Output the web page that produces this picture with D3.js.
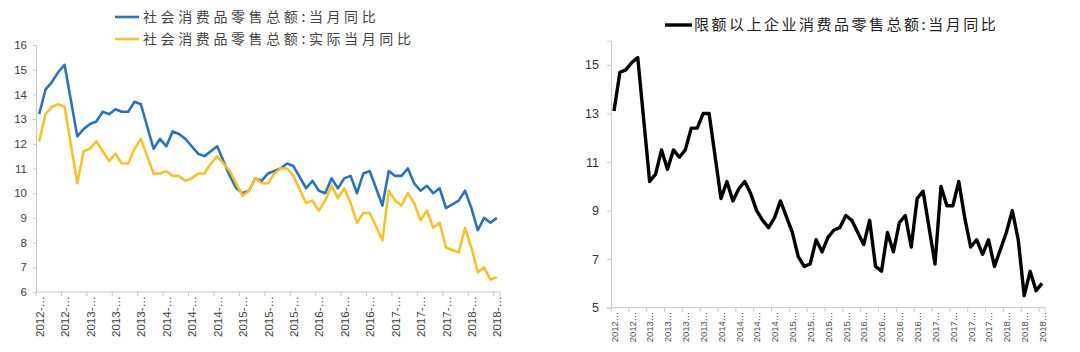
<!DOCTYPE html>
<html><head><meta charset="utf-8">
<script src="https://cdn.jsdelivr.net/npm/d3@7"></script>
<style>
html,body{margin:0;padding:0;background:#fff;}
svg{display:block;}
</style></head>
<body>
<svg id="c" width="1080" height="352"></svg>
<script>
// ---- DATA ----
const months = [
 "2012-08","2012-09","2012-10","2012-11","2012-12",
 "2013-01","2013-02","2013-03","2013-04","2013-05","2013-06","2013-07","2013-08","2013-09","2013-10","2013-11","2013-12",
 "2014-01","2014-02","2014-03","2014-04","2014-05","2014-06","2014-07","2014-08","2014-09","2014-10","2014-11","2014-12",
 "2015-01","2015-02","2015-03","2015-04","2015-05","2015-06","2015-07","2015-08","2015-09","2015-10","2015-11","2015-12",
 "2016-01","2016-02","2016-03","2016-04","2016-05","2016-06","2016-07","2016-08","2016-09","2016-10","2016-11","2016-12",
 "2017-01","2017-02","2017-03","2017-04","2017-05","2017-06","2017-07","2017-08","2017-09","2017-10","2017-11","2017-12",
 "2018-01","2018-02","2018-03","2018-04","2018-05","2018-06","2018-07","2018-08"
];
// 社会消费品零售总额:当月同比 (January not published -> null)
const retailNominal = [
 13.2,14.2,14.5,14.9,15.2,
 null,12.3,12.6,12.8,12.9,13.3,13.2,13.4,13.3,13.3,13.7,13.6,
 null,11.8,12.2,11.9,12.5,12.4,12.2,11.9,11.6,11.5,11.7,11.9,
 null,10.7,10.2,10.0,10.1,10.6,10.5,10.8,10.9,11.0,11.2,11.1,
 null,10.2,10.5,10.1,10.0,10.6,10.2,10.6,10.7,10.0,10.8,10.9,
 null,9.5,10.9,10.7,10.7,11.0,10.4,10.1,10.3,10.0,10.2,9.4,
 null,9.7,10.1,9.4,8.5,9.0,8.8,9.0
];
// 社会消费品零售总额:实际当月同比
const retailReal = [
 12.1,13.2,13.5,13.6,13.5,
 null,10.4,11.7,11.8,12.1,11.7,11.3,11.6,11.2,11.2,11.8,12.2,
 null,10.8,10.8,10.9,10.7,10.7,10.5,10.6,10.8,10.8,11.2,11.5,
 null,10.9,10.4,9.9,10.1,10.6,10.4,10.4,10.8,11.0,11.0,10.7,
 null,9.6,9.7,9.3,9.7,10.3,9.8,10.2,9.6,8.8,9.2,9.2,
 null,8.1,10.1,9.7,9.5,10.0,9.6,8.9,9.3,8.6,8.8,7.8,
 null,7.6,8.6,7.8,6.8,7.0,6.5,6.6
];
// 限额以上企业消费品零售总额:当月同比
const retailAboveLimit = [
 13.1,14.7,14.8,15.1,15.3,
 null,10.2,10.5,11.5,10.7,11.5,11.2,11.5,12.4,12.4,13.0,13.0,
 null,9.5,10.2,9.4,9.9,10.2,9.7,9.0,8.6,8.3,8.7,9.4,
 null,8.1,7.1,6.7,6.8,7.8,7.3,7.9,8.2,8.3,8.8,8.6,
 null,7.6,8.6,6.7,6.5,8.1,7.3,8.5,8.8,7.5,9.5,9.8,
 null,6.8,10.0,9.2,9.2,10.2,8.7,7.5,7.8,7.2,7.8,6.7,
 null,8.1,9.0,7.8,5.5,6.5,5.7,6.0
];
const leftYTicks = [6,7,8,9,10,11,12,13,14,15,16];
const rightYTicks = [5,7,9,11,13,15];
const leftLabelEvery = 4;
const rightLabelEvery = 3;
const leftLegend = ["社会消费品零售总额:当月同比","社会消费品零售总额:实际当月同比"];
const rightLegend = "限额以上企业消费品零售总额:当月同比";

// ---- DRAW ----
const svg = d3.select("#c");
const axisColor = "#c8c8c8";
const textColor = "#404040";

function drawPanel(opts){
  const g = svg.append("g");
  const x = d3.scalePoint().domain(months).range([opts.x0, opts.x1]).padding(0.5);
  const xb = d3.scaleBand().domain(months).range([opts.x0, opts.x1]);
  const y = d3.scaleLinear().domain(opts.yDomain).range([opts.yBottom, opts.yTop]);

  const ya = g.append("g").attr("transform",`translate(${opts.x0},0)`)
    .call(d3.axisLeft(y).tickValues(opts.yTicks).tickSize(opts.yTickSize).tickPadding(opts.yPad).tickFormat(d3.format("d")));
  ya.select(".domain").attr("stroke",axisColor);
  ya.selectAll(".tick line").attr("stroke",axisColor);
  ya.selectAll("text").attr("fill",opts.yTextColor).style("font-family","'Liberation Sans',Arial,sans-serif").style("font-size",opts.yFont+"px");

  const labelled = months.filter((m,i)=> i % opts.every === 0);
  const xa = g.append("g").attr("transform",`translate(0,${opts.yBottom})`)
    .call(d3.axisBottom(x).tickValues(labelled).tickSize(0).tickFormat(m => m.slice(0,4) + opts.suffix));
  xa.select(".domain").attr("stroke",axisColor).attr("d",`M${opts.x0},0H${opts.x1}`);
  xa.selectAll("text")
    .attr("transform","rotate(-90)")
    .attr("x",-4).attr("y",0).attr("dy","0.35em")
    .style("text-anchor","end")
    .attr("fill",opts.xTextColor)
    .style("font-family","'Liberation Sans',Arial,sans-serif")
    .style("font-size",opts.xFont+"px");
  g.append("g").selectAll("line").data(labelled.concat([null])).join("line")
    .attr("x1",d => d===null ? opts.x1 : xb(d)).attr("x2",d => d===null ? opts.x1 : xb(d))
    .attr("y1",opts.yBottom).attr("y2",opts.yBottom+4)
    .attr("stroke",axisColor);

  const line = d3.line().x(d=>x(d.m)).y(d=>y(d.v));
  opts.series.forEach(s=>{
    const pts = months.map((m,i)=>({m, v:s.values[i]})).filter(d=>d.v!=null);
    g.append("path").datum(pts).attr("d",line)
      .attr("fill","none").attr("stroke",s.color).attr("stroke-width",s.width)
      .attr("stroke-linejoin","round");
  });
  return g;
}

const blue = "#2a73b6", yellow = "#f5c22f";

drawPanel({
  x0:36, x1:500, yTop:45, yBottom:292, yDomain:[6,16], yTicks:leftYTicks,
  every:leftLabelEvery, suffix:"-…", xFont:11.5, yFont:11.5, yPad:6, yTickSize:3,
  yTextColor:textColor, xTextColor:textColor,
  series:[{values:retailNominal,color:blue,width:2.6},{values:retailReal,color:yellow,width:2.6}]
});
drawPanel({
  x0:611, x1:1045, yTop:40.7, yBottom:307.7, yDomain:[5,16], yTicks:rightYTicks,
  every:rightLabelEvery, suffix:"…", xFont:9.5, yFont:12.5, yPad:8, yTickSize:4,
  yTextColor:"#333", xTextColor:"#505050",
  series:[{values:retailAboveLimit,color:"#000",width:3.4}]
});

const lf = "'Noto Sans CJK SC','Noto Sans',sans-serif";
const lg = svg.append("g");
[[blue,leftLegend[0],17],[yellow,leftLegend[1],39]].forEach(([c,t,yy])=>{
  lg.append("line").attr("x1",115).attr("x2",139).attr("y1",yy).attr("y2",yy).attr("stroke",c).attr("stroke-width",2.6);
  lg.append("text").attr("x",143).attr("y",yy).attr("dy","0.35em").text(t)
    .attr("fill","#444").style("font-family",lf).style("font-size","14px").style("letter-spacing","3.6px");
});
lg.append("line").attr("x1",665).attr("x2",692).attr("y1",25).attr("y2",25).attr("stroke","#000").attr("stroke-width",3.4);
lg.append("text").attr("x",694).attr("y",25).attr("dy","0.35em").text(rightLegend)
  .attr("fill","#222").style("font-family",lf).style("font-size","15px").style("letter-spacing","2.5px");
</script>
</body></html>
